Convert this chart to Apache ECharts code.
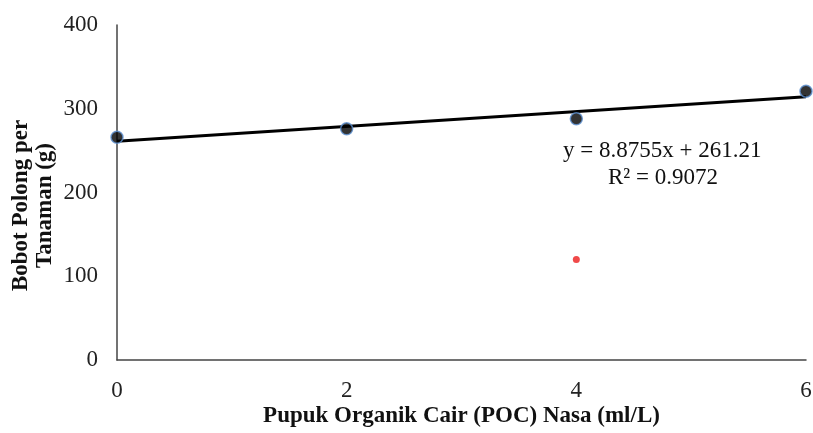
<!DOCTYPE html>
<html><head><meta charset="utf-8">
<script src="https://cdn.jsdelivr.net/npm/echarts@6/dist/echarts.min.js"></script>
<style>html,body{margin:0;padding:0;background:#fff}#c{width:813px;height:433px}</style>
</head><body><div id="c"></div>
<script>
const xValues = [0, 2, 4, 6];
const yValues = [266, 276, 288, 321];
const outlier = [[4, 120]];
const slope = 8.8755;
const intercept = 261.21;
const r2 = 0.9072;
const xTicks = [0, 2, 4, 6];
const yTicks = [0, 100, 200, 300, 400];

const serif = '"Liberation Serif", "DejaVu Serif", serif';
const pts = xValues.map((x, i) => [x, yValues[i]]);
const trend = [xTicks[0], xTicks[xTicks.length - 1]].map(x => [x, slope * x + intercept]);

const chart = echarts.init(document.getElementById('c'));
chart.setOption({
  animation: false,
  backgroundColor: '#fff',
  grid: { left: 117, right: 7, top: 25, bottom: 73, containLabel: false, outerBoundsMode: 'none' },
  xAxis: {
    type: 'value', min: 0, max: 6, interval: 2,
    name: 'Pupuk Organik Cair (POC) Nasa (ml/L)',
    nameLocation: 'middle', nameGap: 45, nameMoveOverlap: false,
    nameTextStyle: { fontFamily: serif, fontWeight: 'bold', fontSize: 23, color: '#111' },
    axisLine: { lineStyle: { color: '#444', width: 1.5 } },
    axisTick: { show: false },
    splitLine: { show: false },
    axisLabel: { fontFamily: serif, fontSize: 23, color: '#222', margin: 19 }
  },
  yAxis: {
    type: 'value', min: 0, max: 400, interval: 100,
    name: 'Bobot Polong per\nTanaman (g)',
    nameLocation: 'middle', nameGap: 60, nameRotate: 90, nameMoveOverlap: false,
    nameTextStyle: { fontFamily: serif, fontWeight: 'bold', fontSize: 23, color: '#111', lineHeight: 24, padding: [0, 26, 0, 0] },
    axisLine: { show: true, lineStyle: { color: '#444', width: 1.5 } },
    axisTick: { show: false },
    splitLine: { show: false },
    axisLabel: { fontFamily: serif, fontSize: 23, color: '#222', margin: 19 }
  },
  series: [
    {
      type: 'line', data: trend, symbol: 'none', z: 2,
      lineStyle: { color: '#000', width: 3 }
    },
    {
      type: 'scatter', data: pts, symbolSize: 12, z: 3,
      itemStyle: { color: '#000', borderColor: '#5b8fd0', borderWidth: 1.5 }
    },
    {
      type: 'scatter', data: outlier, symbolSize: 7, z: 3,
      itemStyle: { color: '#ec1c1c' }
    }
  ],
  graphic: [
    { type: 'text', left: 563, top: 139,
      style: { text: 'y = ' + slope + 'x + ' + intercept, font: '23px ' + serif, fill: '#111' } },
    { type: 'text', left: 608, top: 166,
      style: { text: 'R² = ' + r2, font: '23px ' + serif, fill: '#111' } }
  ]
});
</script></body></html>
